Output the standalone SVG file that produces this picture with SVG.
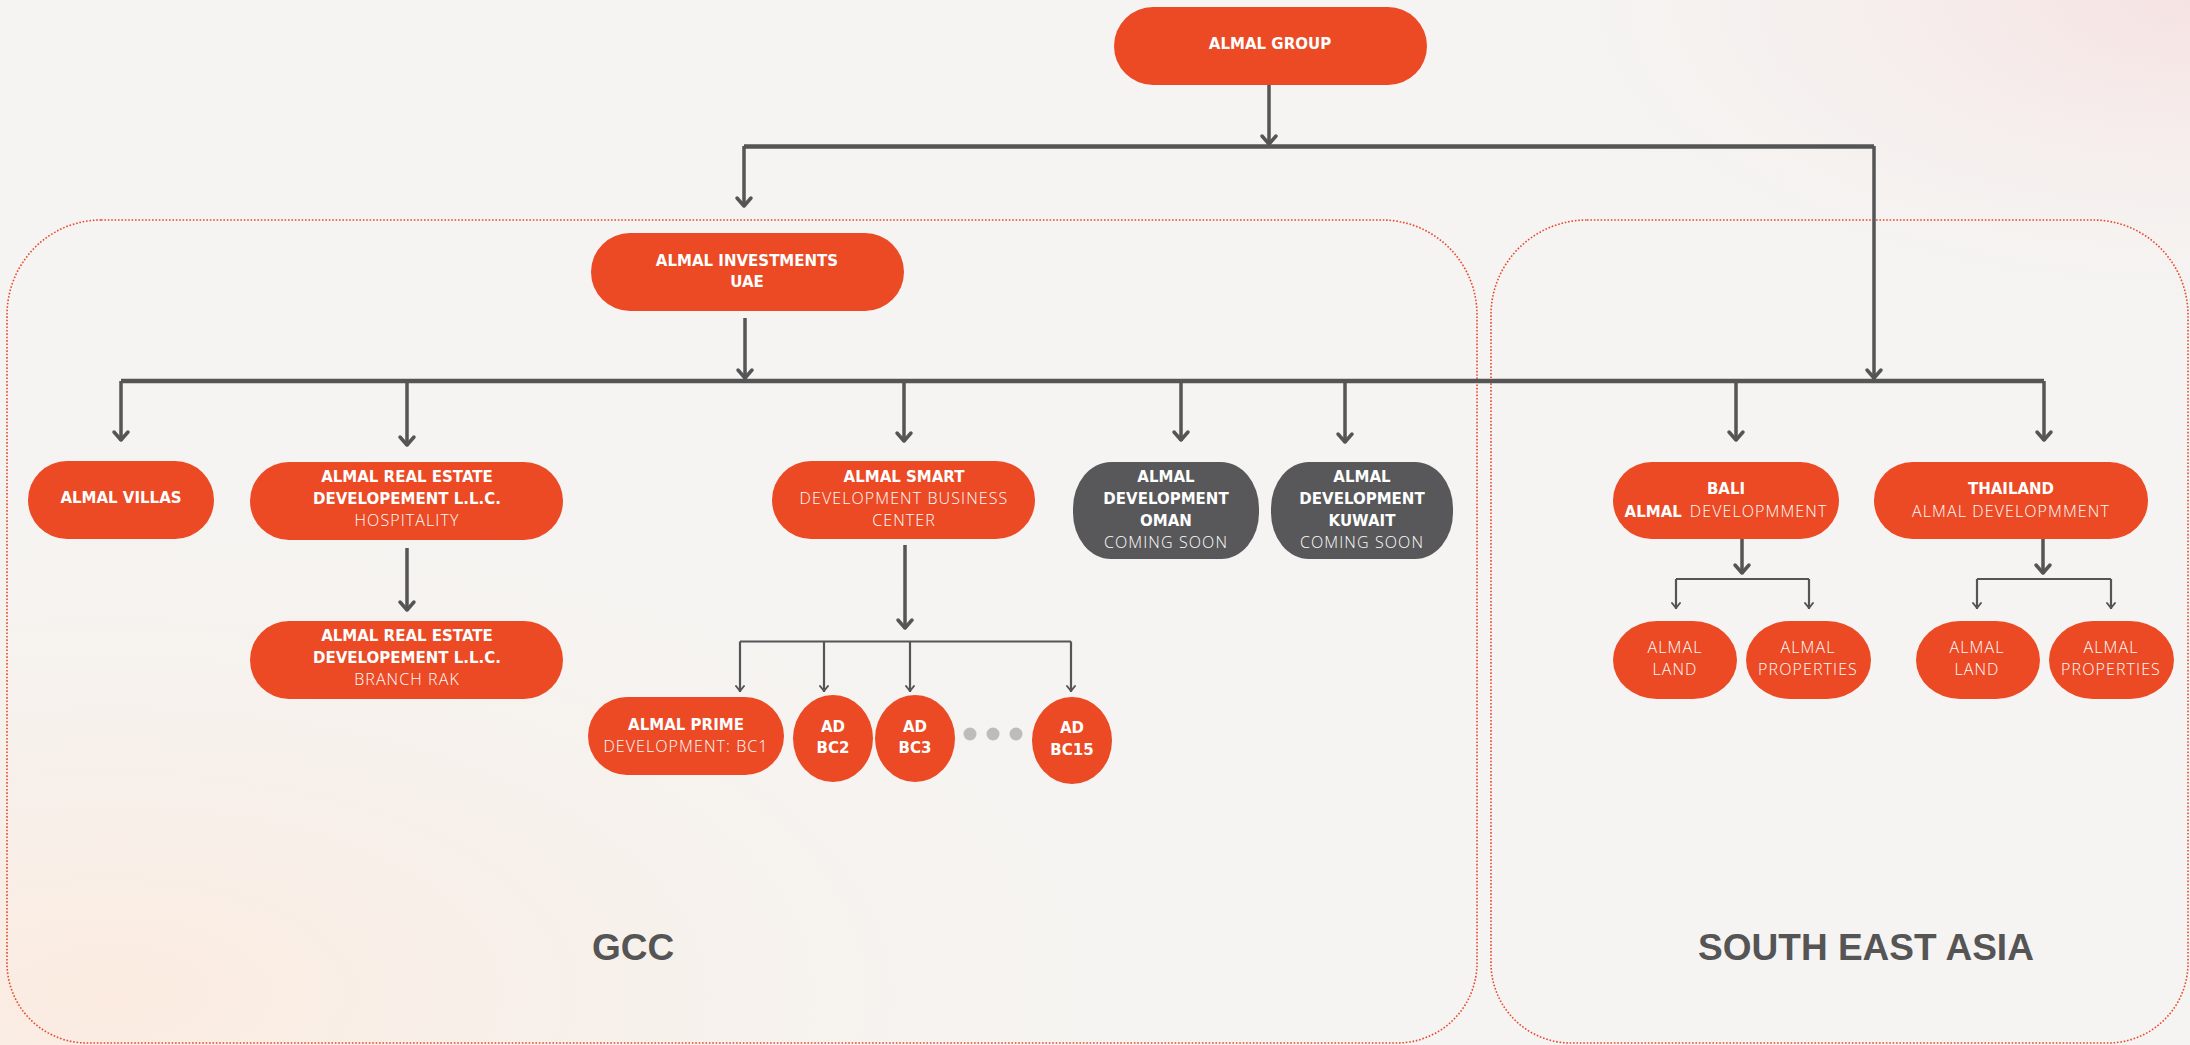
<svg xmlns="http://www.w3.org/2000/svg" width="2190" height="1045" viewBox="0 0 2190 1045">
<defs>
<radialGradient id="bgL" cx="0.05" cy="0.95" r="0.6">
<stop offset="0" stop-color="#fbebe0"/>
<stop offset="1" stop-color="#f5f4f2" stop-opacity="0"/>
</radialGradient>
<radialGradient id="bgR" cx="1" cy="0" r="0.35">
<stop offset="0" stop-color="#f6e2e2"/>
<stop offset="1" stop-color="#f5f4f2" stop-opacity="0"/>
</radialGradient>
<marker id="ab" viewBox="-12 -10 14 20" refX="0" refY="0" markerWidth="14" markerHeight="20" markerUnits="userSpaceOnUse" orient="auto">
<path d="M-9,-7 L-1,0 L-9,7" fill="none" stroke="#555" stroke-width="3.5" stroke-linecap="round" stroke-linejoin="round"/>
</marker>
<marker id="as" viewBox="-8 -6 10 12" refX="0" refY="0" markerWidth="10" markerHeight="12" markerUnits="userSpaceOnUse" orient="auto">
<path d="M-6,-4 L-1,0 L-6,4" fill="none" stroke="#555" stroke-width="2" stroke-linecap="round" stroke-linejoin="round"/>
</marker>
<style>
.n{fill:#eb4a25}
.d{fill:#58585a}
.b{font-family:"DejaVu Sans","Liberation Sans",sans-serif;font-weight:700;font-size:15px;fill:#fff;text-anchor:middle}
.l{font-family:"Open Sans","DejaVu Sans",sans-serif;font-weight:300;font-size:16px;fill:#fff;text-anchor:middle;letter-spacing:1.1px}
.c{fill:none;stroke:#555;stroke-width:3.5}
.h{fill:none;stroke:#555;stroke-width:4.5}
.s{fill:none;stroke:#555;stroke-width:2.2}
.reg{fill:none;stroke:#e8492a;stroke-width:1.6;stroke-dasharray:1.6 1.8}
.rl{font-family:"Liberation Sans",Arial,sans-serif;font-weight:700;font-size:37px;fill:#555;text-anchor:middle}
</style>
</defs>
<rect width="2190" height="1045" fill="#f5f4f2"/>
<rect width="2190" height="1045" fill="url(#bgL)"/>
<rect width="2190" height="1045" fill="url(#bgR)"/>

<g id="regions">
<path class="reg" d="M101,220 H1382 A95,95 0 0 1 1477,315 V963 A80,80 0 0 1 1397,1043 H87 A80,80 0 0 1 7,963 V315 A94,95 0 0 1 101,220 Z"/>
<path class="reg" d="M1587,220 H2093 A95,95 0 0 1 2188,315 V963 A80,80 0 0 1 2108,1043 H1571 A80,80 0 0 1 1491,963 V315 A96,95 0 0 1 1587,220 Z"/>
<text class="rl" x="633" y="960">GCC</text>
<text class="rl" x="1866" y="960">SOUTH EAST ASIA</text>
</g>

<g id="connectors">
<path class="c" d="M1269,85 V145" marker-end="url(#ab)"/>
<path class="h" d="M744,146.5 H1874"/>
<path class="c" d="M744,146 V207" marker-end="url(#ab)"/>
<path class="c" d="M1874,146 V379" marker-end="url(#ab)"/>
<path class="c" d="M745,318 V379" marker-end="url(#ab)"/>
<path class="h" d="M121,381 H2044"/>
<path class="c" d="M121,381 V441" marker-end="url(#ab)"/>
<path class="c" d="M407,381 V446" marker-end="url(#ab)"/>
<path class="c" d="M904,381 V442" marker-end="url(#ab)"/>
<path class="c" d="M1181,381 V441" marker-end="url(#ab)"/>
<path class="c" d="M1345,381 V443" marker-end="url(#ab)"/>
<path class="c" d="M1736,381 V441" marker-end="url(#ab)"/>
<path class="c" d="M2044,381 V441" marker-end="url(#ab)"/>
<path class="c" d="M407,548 V611" marker-end="url(#ab)"/>
<path class="c" d="M905,545 V629" marker-end="url(#ab)"/>
<path class="s" d="M740,641.5 H1071"/>
<path class="s" d="M740,641.5 V692" marker-end="url(#as)"/>
<path class="s" d="M824,641.5 V692" marker-end="url(#as)"/>
<path class="s" d="M910,641.5 V692" marker-end="url(#as)"/>
<path class="s" d="M1071,641.5 V692" marker-end="url(#as)"/>
<path class="c" d="M1742,539 V574" marker-end="url(#ab)"/>
<path class="s" d="M1676,579 H1809"/>
<path class="s" d="M1676,579 V609" marker-end="url(#as)"/>
<path class="s" d="M1809,579 V609" marker-end="url(#as)"/>
<path class="c" d="M2043,539 V574" marker-end="url(#ab)"/>
<path class="s" d="M1977,579 H2111"/>
<path class="s" d="M1977,579 V609" marker-end="url(#as)"/>
<path class="s" d="M2111,579 V609" marker-end="url(#as)"/>
</g>

<g id="almal-group">
<rect class="n" x="1114" y="7" width="313" height="78" rx="39"/>
<text class="b" x="1270" y="49">ALMAL GROUP</text>
</g>
<g id="almal-investments">
<rect class="n" x="591" y="233" width="313" height="78" rx="39"/>
<text class="b" x="747" y="265.5">ALMAL INVESTMENTS</text>
<text class="b" x="747" y="287">UAE</text>
</g>
<g id="almal-villas">
<rect class="n" x="28" y="461" width="186" height="78" rx="39"/>
<text class="b" x="121" y="503">ALMAL VILLAS</text>
</g>
<g id="real-estate-hospitality">
<rect class="n" x="250" y="462" width="313" height="78" rx="39"/>
<text class="b" x="407" y="482">ALMAL REAL ESTATE</text>
<text class="b" x="407" y="504">DEVELOPEMENT L.L.C.</text>
<text class="l" x="407" y="526">HOSPITALITY</text>
</g>
<g id="real-estate-rak">
<rect class="n" x="250" y="621" width="313" height="78" rx="39"/>
<text class="b" x="407" y="641">ALMAL REAL ESTATE</text>
<text class="b" x="407" y="663">DEVELOPEMENT L.L.C.</text>
<text class="l" x="407" y="685">BRANCH RAK</text>
</g>
<g id="almal-smart">
<rect class="n" x="772" y="461" width="263" height="78" rx="39"/>
<text class="b" x="904" y="482">ALMAL SMART</text>
<text class="l" x="904" y="504">DEVELOPMENT BUSINESS</text>
<text class="l" x="904" y="526">CENTER</text>
</g>
<g id="almal-oman">
<rect class="d" x="1073" y="462" width="186" height="97" rx="38" ry="46"/>
<text class="b" x="1166" y="482">ALMAL</text>
<text class="b" x="1166" y="504">DEVELOPMENT</text>
<text class="b" x="1166" y="526">OMAN</text>
<text class="l" x="1166" y="548">COMING SOON</text>
</g>
<g id="almal-kuwait">
<rect class="d" x="1271" y="462" width="182" height="97" rx="38" ry="46"/>
<text class="b" x="1362" y="482">ALMAL</text>
<text class="b" x="1362" y="504">DEVELOPMENT</text>
<text class="b" x="1362" y="526">KUWAIT</text>
<text class="l" x="1362" y="548">COMING SOON</text>
</g>
<g id="bali">
<rect class="n" x="1613" y="462" width="226" height="77" rx="38.5"/>
<text class="b" x="1726" y="494">BALI</text>
<text x="1726" y="516.5" class="b"><tspan>ALMAL</tspan><tspan class="l" style="text-anchor:start" dx="8">DEVELOPMMENT</tspan></text>
</g>
<g id="thailand">
<rect class="n" x="1874" y="462" width="274" height="77" rx="38.5"/>
<text class="b" x="2011" y="494">THAILAND</text>
<text class="l" x="2011" y="516.5">ALMAL DEVELOPMMENT</text>
</g>
<g id="bali-land">
<rect class="n" x="1613" y="621" width="124" height="78" rx="44" ry="39"/>
<text class="l" x="1675" y="653">ALMAL</text>
<text class="l" x="1675" y="675">LAND</text>
</g>
<g id="bali-properties">
<rect class="n" x="1746" y="621" width="125" height="78" rx="44" ry="39"/>
<text class="l" x="1808" y="653">ALMAL</text>
<text class="l" x="1808" y="675">PROPERTIES</text>
</g>
<g id="thailand-land">
<rect class="n" x="1916" y="621" width="124" height="78" rx="44" ry="39"/>
<text class="l" x="1977" y="653">ALMAL</text>
<text class="l" x="1977" y="675">LAND</text>
</g>
<g id="thailand-properties">
<rect class="n" x="2049" y="621" width="125" height="78" rx="44" ry="39"/>
<text class="l" x="2111" y="653">ALMAL</text>
<text class="l" x="2111" y="675">PROPERTIES</text>
</g>
<g id="almal-prime">
<rect class="n" x="588" y="697" width="196" height="78" rx="39"/>
<text class="b" x="686" y="730">ALMAL PRIME</text>
<text class="l" x="686" y="752">DEVELOPMENT: BC1</text>
</g>
<g id="ad-bc2">
<ellipse class="n" cx="833" cy="738.5" rx="40" ry="43.5"/>
<text class="b" x="833" y="731.5">AD</text>
<text class="b" x="833" y="753">BC2</text>
</g>
<g id="ad-bc3">
<ellipse class="n" cx="915" cy="738.5" rx="40" ry="43.5"/>
<text class="b" x="915" y="731.5">AD</text>
<text class="b" x="915" y="753">BC3</text>
</g>
<g id="ellipsis">
<circle cx="970" cy="734" r="6.5" fill="#bdbcbb"/>
<circle cx="993" cy="734" r="6.5" fill="#bdbcbb"/>
<circle cx="1016" cy="734" r="6.5" fill="#bdbcbb"/>
</g>
<g id="ad-bc15">
<ellipse class="n" cx="1072" cy="740.5" rx="40" ry="43.5"/>
<text class="b" x="1072" y="733">AD</text>
<text class="b" x="1072" y="755">BC15</text>
</g>
</svg>
